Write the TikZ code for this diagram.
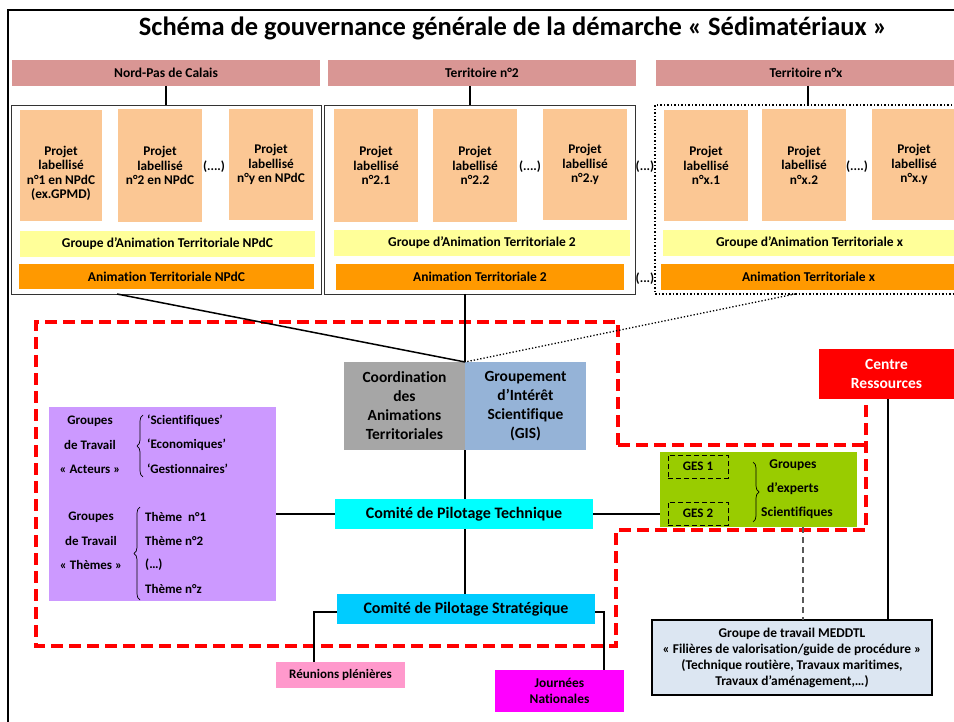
\documentclass[tikz,border=0pt]{standalone}
\usepackage{fontspec}
\setmainfont{Carlito}[Ligatures=NoCommon]
\usetikzlibrary{decorations.pathreplacing,calc}
\definecolor{hdr}{RGB}{217,150,148}
\definecolor{proj}{RGB}{251,199,148}
\definecolor{ylw}{RGB}{255,255,153}
\definecolor{org}{RGB}{255,153,0}
\definecolor{gry}{RGB}{166,166,166}
\definecolor{gis}{RGB}{149,179,215}
\definecolor{prp}{RGB}{204,153,255}
\definecolor{cyn}{RGB}{0,255,255}
\definecolor{stg}{RGB}{0,204,255}
\definecolor{grn}{RGB}{153,204,0}
\definecolor{pnk}{RGB}{255,153,204}
\definecolor{mgt}{RGB}{255,0,255}
\definecolor{med}{RGB}{220,230,242}
\newcommand\bx[7]{\node[#1,minimum width={(#5-#3)*1pt},minimum height={(#6-#4)*1pt}] (#2) at ({(#3+#5)/2},{(#4+#6)/2}) {#7};}
\tikzset{
  fb/.style={fill=#1,inner sep=0pt,outer sep=0pt,align=center},
  hdrbox/.style={fb=hdr,font=\bfseries\fontsize{13.5}{16}\selectfont},
  projbox/.style={fb=proj,font=\bfseries\fontsize{13.3}{14.5}\selectfont},
  txt/.style={inner sep=0pt,align=center,font=\bfseries\fontsize{13}{14.5}\selectfont},
  ptxt/.style={inner sep=0pt,align=center,font=\bfseries\fontsize{13.3}{14.5}\selectfont},
  bandbox/.style={fb=#1,font=\bfseries\fontsize{13.5}{15}\selectfont},
  bigbox/.style={fb=#1,font=\bfseries\fontsize{15.5}{19}\selectfont},
  comite/.style={fb=#1,font=\bfseries\fontsize{16}{18}\selectfont},
  frm/.style={draw=black!80,line width=0.8pt,inner sep=0pt,outer sep=0pt},
  conn/.style={draw=black,line width=2pt},
  thin/.style={draw=black,line width=1.5pt},
  redline/.style={draw=red,line width=3.5pt,dash pattern=on 12pt off 6pt},
  brc/.style={draw=black,line width=0.7pt,decorate,decoration={brace,amplitude=6pt}},
  gesbox/.style={draw=black,dash pattern=on 5pt off 3pt,line width=0.8pt,fb=none,font=\bfseries\fontsize{13}{14}\selectfont},
}
\begin{document}
\begin{tikzpicture}[x=1pt,y=-1pt]
\useasboundingbox (0,0) rectangle (954,722);
\clip (0,0) rectangle (954,722);
% outer frame
\draw[line width=2pt] (8,730) -- (8,10) -- (960,10);
% title
\node[inner sep=0pt,font=\bfseries\fontsize{26.5}{30}\selectfont] (title) at (513,28) {Schéma de gouvernance générale de la démarche « Sédimatériaux »};
% headers
\bx{hdrbox}{h1}{12}{60}{320}{86}{Nord-Pas de Calais}
\bx{hdrbox}{h2}{328}{60}{636}{86}{Territoire n°2}
\bx{hdrbox}{h3}{656}{60}{956}{86}{Territoire n°x}
% frames
\bx{frm}{f1}{11}{105}{321}{294}{}
\bx{frm}{f2}{324}{105}{635}{294}{}
\node[draw=black,line width=1.5pt,dotted,inner sep=0pt,outer sep=0pt,minimum width=320pt,minimum height=189pt] (f3) at (815,199.5) {};
\draw[conn] ([xshift=154pt]h1.south west) -- ([xshift=154pt]h1.south west |- f1.north);
\draw[conn] ([xshift=142pt]h2.south west) -- ([xshift=142pt]h2.south west |- f2.north);
\draw[conn] ([xshift=152pt]h3.south west) -- ([xshift=152pt]h3.south west |- f3.north);
% projects frame 1
\bx{projbox}{p11}{20}{110}{102}{221}{}
\node[ptxt] at (61,173.5) {Projet\\labellisé\\n°1 en NPdC\\(ex.GPMD)};
\bx{projbox}{p12}{118}{109}{202}{222}{Projet\\labellisé\\n°2 en NPdC}
\bx{projbox}{p13}{229}{109}{313}{220}{Projet\\labellisé\\n°y en NPdC}
\node[txt] at (214,167) {(....)};
\bx{bandbox=ylw}{y1}{20}{231}{315}{257}{Groupe d’Animation Territoriale NPdC}
\bx{bandbox=org}{o1}{19}{264}{314}{289}{Animation Territoriale NPdC}
% projects frame 2
\bx{projbox}{p21}{334}{109}{418}{222}{Projet\\labellisé\\n°2.1}
\bx{projbox}{p22}{433}{109}{517}{222}{Projet\\labellisé\\n°2.2}
\bx{projbox}{p23}{543}{109}{627}{220}{Projet\\labellisé\\n°2.y}
\node[txt] at (530,167) {(....)};
\bx{bandbox=ylw}{y2}{334}{230}{630}{256}{Groupe d’Animation Territoriale 2}
\bx{bandbox=org}{o2}{336}{264}{624}{290}{Animation Territoriale 2}
\node[txt] at (645,167) {(...)};
\node[txt] at (645,279) {(...)};
% projects frame 3
\bx{projbox}{p31}{664}{110}{748}{221}{Projet\\labellisé\\n°x.1}
\bx{projbox}{p32}{762}{109}{846}{221}{Projet\\labellisé\\n°x.2}
\bx{projbox}{p33}{872}{109}{956}{220}{Projet\\labellisé\\n°x.y}
\node[txt] at (857,167) {(....)};
\bx{bandbox=ylw}{y3}{663}{230}{956}{256}{Groupe d’Animation Territoriale x}
\bx{bandbox=org}{o3}{661}{264}{956}{290}{Animation Territoriale x}
% red dashed zone
\draw[redline] (618,445) -- (618,322) -- (36,322) -- (36,646) -- (616,646) -- (616,530) -- (866,530) -- (866,400);
\draw[redline] (618,445) -- (866,445);
% coordination / GIS
\bx{bigbox=gry}{coord}{344}{362}{465}{450}{Coordination\\des\\Animations\\Territoriales}
\bx{bigbox=gis}{gis}{465}{362}{586}{450}{Groupement\\d’Intérêt\\Scientifique\\(GIS)}
\draw[thin] ([xshift=106pt]f1.south west) -- (gis.north west);
\draw[conn] (f2.south -| gis.north west) -- (gis.north west);
\draw[black,line width=1.3pt,dotted] ([xshift=140pt]f3.south west) -- (gis.north west);
% centre ressources
\bx{bigbox=red}{cr}{819}{349}{954}{399}{\textcolor{white}{Centre}\\\textcolor{white}{Ressources}}
% purple box
\bx{fb=prp}{prp}{49}{407}{276}{601}{}
\node[txt] at (90,421) {Groupes};
\node[txt] at (90,445) {de Travail};
\node[txt] at (90,469) {« Acteurs »};
\draw[brc] (143,477) -- (143,415);
\node[txt,anchor=west] at (147,421) {‘Scientifiques’};
\node[txt,anchor=west] at (147,445) {‘Economiques’};
\node[txt,anchor=west] at (147,469) {‘Gestionnaires’};
\node[txt] at (91,517) {Groupes};
\node[txt] at (91,541) {de Travail};
\node[txt] at (91,565) {« Thèmes »};
\draw[brc] (140,600) -- (140,507);
\node[txt,anchor=west] at (145,517) {Thème~ n°1};
\node[txt,anchor=west] at (145,541) {Thème n°2};
\node[txt,anchor=west] at (145,565) {(…)};
\node[txt,anchor=west] at (145,589) {Thème n°z};
% comites
\bx{comite=cyn}{tech}{335}{499}{593}{529}{Comité de Pilotage Technique}
\bx{comite=stg}{strat}{337}{594}{595}{624}{Comité de Pilotage Stratégique}
\draw[conn] (gis.south west) -- (gis.south west |- tech.north);
\draw[conn] (tech.south -| gis.south west) -- (strat.north -| gis.south west);
\draw[thin] (prp.east |- tech.west) -- (tech.west);
% green box
\bx{fb=grn}{grn}{660}{452}{857}{527}{}
\draw[thin] (tech.east) -- (tech.east -| grn.west);
\bx{gesbox}{ges1}{668}{455}{728}{478}{GES 1}
\bx{gesbox}{ges2}{668}{502}{728}{525}{GES 2}
\draw[brc] (753,462) -- (753,522);
\node[txt,font=\bfseries\fontsize{13.5}{15}\selectfont] at (793,465) {Groupes};
\node[txt,font=\bfseries\fontsize{13.5}{15}\selectfont] at (793,489) {d’experts};
\node[txt,font=\bfseries\fontsize{13.5}{15}\selectfont] at (797,513) {Scientifiques};
% MEDDTL
\bx{draw=black,line width=1.5pt,fb=med,font=\bfseries\fontsize{13.4}{16}\selectfont}{med}{652}{620}{932}{695}{Groupe de travail MEDDTL\\« Filières de valorisation/guide de procédure »\\(Technique routière, Travaux maritimes,\\Travaux d’aménagement,…)}
\draw[black!65,line width=1.2pt,dash pattern=on 6pt off 4pt] ([xshift=143pt]grn.south west) -- ([xshift=143pt]grn.south west |- med.north);
\draw[conn] ([xshift=69pt]cr.south west) -- ([xshift=69pt]cr.south west |- med.north);
% reunions / journees
\bx{fb=pnk,font=\bfseries\fontsize{13}{14}\selectfont}{reu}{276}{662}{405}{688}{Réunions plénières}
\bx{fb=mgt,font=\bfseries\fontsize{13.4}{16}\selectfont}{jn}{495}{670}{624}{712}{Journées\\Nationales}
\draw[thin] ([yshift=-3pt]strat.west) -| ([xshift=38pt]reu.north west);
\draw[thin] ([yshift=-3pt]strat.east) -| ([xshift=109pt]jn.north west);
\end{tikzpicture}
\end{document}
